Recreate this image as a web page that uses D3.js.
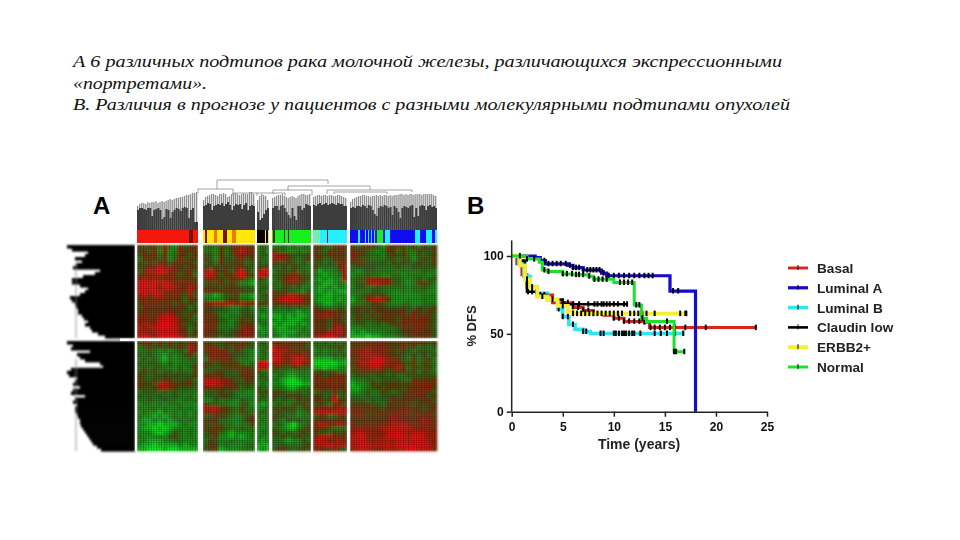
<!DOCTYPE html>
<html>
<head>
<meta charset="utf-8">
<script src="https://cdn.jsdelivr.net/npm/d3@7"></script>
<style>
  html, body { margin: 0; background: #fff; }
  text { font-family: "Liberation Sans", sans-serif; }
</style>
</head>
<body>
<div id="chart"></div>
<script>
const captionLines = [
    "А 6 различных подтипов рака молочной железы, различающихся экспрессионными",
    "«портретами».",
    "В. Различия в прогнозе у пациентов с разными молекулярными подтипами опухолей",
];

// heatmap, one string per row, 0 = bright green, 5 = dark, 9 = bright red
const heatTop1 = ["545637326456","564627237565","456736236546","365546247455","546475465654","457797865465","478899675564","567786754563","787867765655","998989877675","899979986787","998987777585","787887665474","675676565365","566756546454","476565756534","565676765445","676578875463","767689986543","786799987445","878899987534","887899997635","898799998745"];
const heatTop2 = ["3436456765","3325357876","4426347765","5426445645","4536455634","5454546544","7965647953","8864558965","5765465632","4546454221","5554565443","6656555544","2212445221","3222455332","7788887877","5544322342","5543322443","6653233454","6654323544","6663324565","7653334676","6654345787","6553445776"];
const heatTop3 = ["343","342","343","433","434","545","799","897","543","433","344","433","345","334","565","322","232","212","322","233","122","212","223"];
const heatTop4 = ["33424233","53322323","87754445","78754345","54454343","43535433","34445343","44567644","34678654","43566543","33443423","54544324","65788775","68999875","56677765","43343433","22222122","11212112","21211122","12111212","21122232","21111222","32122323"];
const heatTop5 = ["6543566","5436565","6645655","5534556","4434475","5333358","3122347","3212237","2121228","3211232","2112122","2121211","2211222","2111212","3211232","5433343","7567655","6787664","6554654","5654765","6554786","7678896","7889876"];
const heatTop6 = ["54565426555453545","65543235635335445","76543324545324345","65443334434424545","55644443545445445","34444333343344444","32344333333333433","23343322332333323","34477777443234344","34478877443235643","24433433333233432","33334433223233322","23455453222222333","13378985222222322","23345543223322333","45545554445435445","45454656565465464","45546465556575654","35444556546676754","34433434557667654","22333333345567654","12122223345676564","11101122234556654"];

const heatBottom1 = ["565464645475","346454546486","334323234377","434321323463","343421323344","434432423334","343443324245","454534434335","543445454445","544545544453","655488765564","544578654443","344434343333","434343343232","334334332333","233232333222","323323223232","232213232323","322121232323","211212123232","221101112322","211010123232","222101243232","322232453232","221112233222","211011112122","110001001111"];
const heatBottom2 = ["5544555654","6664546644","5777645432","4777754432","3766654332","5545555323","5444556554","4455444575","6665444665","8887754465","8988765454","6665565343","4445443322","3445543222","2243332432","5443322442","8886543533","7775543543","4465432346","5553322355","5464332335","5565433433","4553212223","4462212123","3542232222","4552322233","4551222333"];
const heatBottom3 = ["343","334","243","233","343","899","988","533","343","334","232","433","545","343","433","212","223","343","323","232","323","222","233","322","212","111","121"];
const heatBottom4 = ["55565654","87765554","98876655","89778786","98778987","78668976","55445544","43322333","23211222","32100122","22100011","33211233","55433434","54455544","43433545","34334454","54545345","45444234","54433233","43243434","34210234","43211345","54343454","44534544","33212243","34433345","45544454"];
const heatBottom5 = ["4343434","3434454","2323343","3323434","1111222","0000011","1101122","4544433","6545675","6767766","5567575","6756765","3444545","5534834","5645955","4543664","6777787","8888888","4553455","5666665","7887787","6654333","5443545","7888765","8987787","8889888","7665754"];
const heatBottom6 = ["55565665556565545","56667675556453434","67787776545434443","67888876554353534","56778987664353453","57889987765463543","46678875786354453","55665554555453543","34443443433444444","23344344443365656","12235455555567675","11234545554566775","22343354345666654","33343344545566645","44434344655655564","55554435556545555","66565546566665456","67655665767656565","56655556776657675","66566667877667876","65665667888766776","77776788888877766","78877778998788877","88977779898899877","89987888899899987","88988889899999987","78887778788998886"];

// samples per cluster (left to right) and the gap after each
const clusterSizes = [61, 52, 12, 39, 34, 87];
const clusterGaps = [5, 2, 3, 2, 3, 0];

// subtype strip: run of [subtype, number of samples]
const stripRuns = [
    ["Basal",52],["Dark",4],["Basal",5],["Gap",5],
    ["ERBB2",2],["Dark",2],["ERBB2",7],["Orange",3],["ERBB2",6],["Dark",4],["ERBB2",5],["Orange",4],["ERBB2",19],["Gap",2],
    ["Claudin",8],["ERBB2",1],["Claudin",2],["ERBB2",1],["Gap",3],
    ["Normal",1],["Dark",2],["Normal",9],["Dark",1],["Normal",3],["Dark",1],["Normal",22],["Gap",2],
    ["Mint",7],["LumB",7],["Dark",1],["LumB",19],["Gap",3],
    ["LumA",8],["LumB",2],["LumA",5],["LumB",1],["LumA",2],["LumB",1],["LumA",2],["LumB",1],["LumA",2],["LumB",1],["LumA",2],["Normal",6],["LumA",2],["LumB",5],["LumA",25],["LumB",5],["LumA",6],["LumB",6],["LumA",3],["LumB",2],
];

// sample tree heights per cluster: grey tips, dark body
const treeGrey = [
    [24,26,27,27,26,28,27,28,28,29,27,28,29,28,29,30,31,30,31,32,32,33,33,34,35,35,36,37,37,38],
    [30,33,34,35,36,36,35,34,36,36,37,36,33,34,36,37,37,36,35,36,37,36,36,38,38,36],
    [30,34,36,35,34,30],
    [32,33,34,35,35,36,34,33,32,33,34,33,32,34,35,36,36,35,35,36],
    [33,34,35,35,34,35,35,34,35,35,34,34,35,35,34,33,32],
    [28,31,32,33,34,34,35,35,34,34,33,34,34,35,34,35,34,35,35,34,35,34,35,35,35,36,36,35,36,35,36,36,35,36,36,36,35,36,36,36,36,36,35,34],
];
const treeDark = [
    [20,22,22,21,20,22,22,14,20,21,22,20,11,13,21,20,12,18,20,22,21,19,22,23,22,12,20,22,8,8],
    [24,25,27,26,20,24,25,26,25,27,24,26,28,25,20,24,26,25,26,21,25,27,20,24,25,24],
    [18,10,12,16,20,22],
    [22,24,24,20,24,25,22,18,15,12,22,14,10,24,24,20,22,26,25,24],
    [25,24,26,27,25,26,27,25,26,27,26,25,27,26,26,24,24],
    [22,23,22,24,24,23,25,24,22,25,24,20,16,14,22,24,23,25,24,22,23,15,24,22,18,12,22,24,23,22,24,25,13,22,14,24,25,24,20,24,25,23,24,22],
];
// upper tree brackets: sample from, sample to, height, left leg end, right leg end
const treeLinks = [
    [80,191,50,41,46],
    [61,96,41,37,36],
    [151,233,44,39,40],
    [136,175,40,36,35],
    [190,275,40,36,38],
    [197,250,38,36,36],
    [96,120,37,34,34],
    [120,148,37,36,34],
];

// gene tree depth per leaf row
const geneDepthTop = [68,63,47,50,60,53,59,62,35,40,52,63,63,55,47,50,55,65,63,60,59,57,57,53,51,47,50,45,43,37,30];
const geneDepthBottom = [68,62,64,45,58,55,50,35,32,64,68,66,58,60,62,55,62,64,50,60,62,58,60,60,58,57,55,55,54,52,50,48,46,44,42,38,34];

// survival curves: [years, % DFS]
const basalCurve = [[0,100],[0.5,95],[1,88],[1.5,80],[2.5,75],[4,70],[6,67],[7,65],[8,63],[9,62],[10,60],[11,58],[13,57.5],[13.5,54],[24,54]];
const lumACurve = [[0,100],[2.3,99],[2.8,97],[3.3,95],[5.5,94],[6,92.5],[7,91],[8.8,89],[9.3,87.3],[15.5,77.5],[18,0]];
const lumBCurve = [[0,100],[0.7,95],[1.2,87],[1.8,80],[2.5,76],[3.5,72],[4.5,66],[5,61],[5.6,56],[6.2,53],[7,51.5],[7.7,50.2],[16.9,50.2]];
const claudinCurve = [[0,100],[0.8,97],[1.3,85],[1.5,77],[2.5,75],[3.5,72],[5,69],[11.3,69]];
const erbb2Curve = [[0,100],[0.8,94],[1.3,85],[1.8,80],[2.5,74],[3.5,72],[4.5,68],[5.5,64.5],[6,63],[17.2,63]];
const normalCurve = [[0,100],[1.5,98],[2.7,96],[3,91],[3.5,90],[5,88.5],[6,88],[7.5,87],[8,85],[10,83],[12,68.5],[12.7,60],[13.2,58],[15.9,38.5],[16.9,38.5]];

// censored patients, years
const basalCensor = [5.5,6,6.5,7,7.5,8,10,10.5,11,11.5,12,12.5,13,13.6,14,14.5,15,15.5,16,17,19,23.9];
const lumACensor = [3.2,3.6,4,4.4,4.8,5.3,5.7,6,6.3,6.6,7,7.4,7.7,8,8.3,8.6,9,9.5,10,10.5,11,11.5,12,12.5,13,13.4,13.8,15.8,16.3];
const lumBCensor = [4.6,5,5.5,6,7,7.3,8.7,9,10,10.2,10.5,10.8,11,11.2,11.5,11.8,12,12.6,14,14.6,15.2,16,16.8];
const claudinCensor = [1.6,2,2.4,2.8,3.2,5.2,6,6.6,7.5,8.1,8.4,8.8,9,9.3,9.6,10,10.4,11,11.3];
const erbb2Censor = [1.5,2,3,4,5,6,6.4,6.8,7.2,7.6,8,8.4,8.8,9.2,9.6,10,10.4,10.8,11.6,12,12.4,12.8,13.2,14,16.5,17,17.1];
const normalCensor = [0.8,1.5,2.2,3.2,3.6,5,5.4,5.9,6.3,6.6,7,7.6,8.1,8.5,8.9,9.3,10.6,11,11.4,11.8,12.2,12.5,12.8,15.2,15.9,16.1,16.9];

const seriesNames = ["Basal", "Luminal A", "Luminal B", "Claudin low", "ERBB2+", "Normal"];
const seriesColors = ["#d9281e", "#1408c8", "#2de6f0", "#000000", "#f5ee30", "#1fe02a"];
const seriesWidths = [3, 3.2, 3.6, 2.6, 3.8, 3];
const seriesCurves = [basalCurve, lumACurve, lumBCurve, claudinCurve, erbb2Curve, normalCurve];
const seriesCensors = [basalCensor, lumACensor, lumBCensor, claudinCensor, erbb2Censor, normalCensor];
const xTicks = [0, 5, 10, 15, 20, 25];
const yTicks = [0, 50, 100];

const stripColors = { Basal: "#f5140c", Dark: "#6e1208", Orange: "#f07a0c", ERBB2: "#ffe60a", Claudin: "#0c0404", Normal: "#14f01e", Mint: "#70f0b4", LumB: "#28f0ff", LumA: "#0c0cf0", Gap: "#ffffff" };

const svg = d3.select("#chart").append("svg")
    .attr("width", 960)
    .attr("height", 540)
    .style("display", "block");

const defs = svg.append("defs");
[["soft", 0.5], ["softer", 0.8]].forEach(f => {
    defs.append("filter").attr("id", f[0])
        .attr("x", "-5%").attr("y", "-5%").attr("width", "110%").attr("height", "110%")
        .append("feGaussianBlur").attr("stdDeviation", f[1]);
});
// fine weave over the heatmap cells
const weave = defs.append("pattern").attr("id", "weave")
    .attr("width", 2.6).attr("height", 2.2)
    .attr("patternUnits", "userSpaceOnUse");
weave.append("rect").attr("width", 0.9).attr("height", 2.2).attr("fill", "#000").attr("opacity", 0.28);
weave.append("rect").attr("width", 2.6).attr("height", 0.8).attr("fill", "#000").attr("opacity", 0.22);

// caption
const captionWidth = [709, 134, 717];
captionLines.forEach((line, i) => {
    svg.append("text")
        .attr("x", 73)
        .attr("y", 67 + i * 21.5)
        .attr("textLength", captionWidth[i])
        .attr("lengthAdjust", "spacingAndGlyphs")
        .style("font-family", "'Liberation Serif', serif")
        .style("font-style", "italic")
        .style("font-size", "17.5px")
        .attr("fill", "#111")
        .text(line);
});

// panel A
const sampleX = d3.scaleLinear().domain([0, 300]).range([137, 437]);
const heightY = d3.scaleLinear().domain([0, 50]).range([230, 180]);
const rowsTop = d3.scaleBand().domain(d3.range(heatTop1.length)).range([245, 338]);
const rowsBottom = d3.scaleBand().domain(d3.range(heatBottom1.length)).range([341, 451]);
const heatColor = d3.scaleLinear()
    .domain([0, 2, 4, 5, 7, 9])
    .range(["#0cf01e", "#1c961c", "#386414", "#5e4410", "#98280c", "#f5100c"]);

svg.append("text").attr("x", 93).attr("y", 214)
    .style("font-size", "24px").style("font-weight", "bold").text("A");

const heatG = svg.append("g").attr("filter", "url(#softer)");
const treeG = svg.append("g").attr("filter", "url(#soft)");
const heatTop = [heatTop1, heatTop2, heatTop3, heatTop4, heatTop5, heatTop6];
const heatBottom = [heatBottom1, heatBottom2, heatBottom3, heatBottom4, heatBottom5, heatBottom6];

let start = 0;
const clusterStarts = clusterSizes.map((n, i) => {
    const s = start;
    start += n + clusterGaps[i];
    return s;
});

clusterSizes.forEach((n, c) => {
    const x0 = clusterStarts[c];
    const cols = d3.scaleBand()
        .domain(d3.range(heatTop[c][0].length))
        .range([sampleX(x0), sampleX(x0 + n)]);

    [[heatTop[c], rowsTop], [heatBottom[c], rowsBottom]].forEach(block => {
        const cells = block[0].flatMap((row, r) => row.split("").map((v, k) => ({ r, k, v: +v })));
        heatG.append("g").selectAll("rect")
            .data(cells)
            .join("rect")
            .attr("x", d => cols(d.k))
            .attr("y", d => block[1](d.r))
            .attr("width", cols.bandwidth() + 0.3)
            .attr("height", block[1].bandwidth() + 0.3)
            .attr("fill", d => heatColor(d.v));
    });

    const tree = d3.scaleBand()
        .domain(d3.range(treeGrey[c].length))
        .range([sampleX(x0), sampleX(x0 + n)]);
    treeG.append("g").selectAll("rect")
        .data(treeGrey[c])
        .join("rect")
        .attr("x", (d, i) => tree(i))
        .attr("y", d => heightY(d))
        .attr("width", tree.bandwidth() * 0.65)
        .attr("height", d => heightY(0) - heightY(d))
        .attr("fill", "#8f8f8f");
    treeG.append("g").selectAll("rect")
        .data(treeDark[c])
        .join("rect")
        .attr("x", (d, i) => tree(i))
        .attr("y", d => heightY(d))
        .attr("width", tree.bandwidth())
        .attr("height", d => heightY(0) - heightY(d))
        .attr("fill", "#3c3c3c");
});

svg.append("rect").attr("x", 137).attr("y", 245).attr("width", 300).attr("height", 206).attr("fill", "url(#weave)");

treeG.append("g").selectAll("path")
    .data(treeLinks)
    .join("path")
    .attr("d", d => `M${sampleX(d[0])},${heightY(d[3])}V${heightY(d[2])}H${sampleX(d[1])}V${heightY(d[4])}`)
    .attr("fill", "none")
    .attr("stroke", "#8d8d8d")
    .attr("stroke-width", 0.8);

// white gaps over the heatmap
svg.append("g").selectAll("rect")
    .data(clusterSizes.slice(0, -1))
    .join("rect")
    .attr("x", (d, i) => sampleX(clusterStarts[i] + d))
    .attr("y", 228)
    .attr("width", (d, i) => sampleX(clusterGaps[i]) - sampleX(0))
    .attr("height", 224)
    .attr("fill", "#fff");
svg.append("rect").attr("x", 135).attr("y", 338.4).attr("width", 303).attr("height", 2.6).attr("fill", "#fff");

// subtype strip
let runStart = 0;
const runs = stripRuns.map(r => {
    const o = { type: r[0], x0: runStart, n: r[1] };
    runStart += r[1];
    return o;
});
svg.append("g").attr("filter", "url(#soft)").selectAll("rect")
    .data(runs)
    .join("rect")
    .attr("x", d => sampleX(d.x0))
    .attr("y", heightY(0))
    .attr("width", d => sampleX(d.n) - sampleX(0))
    .attr("height", 13)
    .attr("fill", d => stripColors[d.type]);

// gene tree
const depthX = d3.scaleLinear().domain([0, 70]).range([135, 65]);
const geneG = svg.append("g").attr("filter", "url(#softer)");
[[geneDepthTop, [245, 338]], [geneDepthBottom, [341, 451]]].forEach(block => {
    const rows = d3.scaleBand().domain(d3.range(block[0].length)).range(block[1]);
    geneG.append("g").selectAll("rect")
        .data(block[0])
        .join("rect")
        .attr("x", d => depthX(d))
        .attr("y", (d, i) => rows(i))
        .attr("width", d => depthX(0) - depthX(d))
        .attr("height", rows.bandwidth() + 0.6)
        .attr("fill", "#000");
    geneG.append("line")
        .attr("x1", depthX(59)).attr("x2", depthX(59))
        .attr("y1", rows(6)).attr("y2", block[1][1])
        .attr("stroke", "#777").attr("stroke-width", 0.8);
});
// keep the tree's right edge sharp against the heatmap
svg.append("rect").attr("x", 135).attr("y", 245).attr("width", 2).attr("height", 206).attr("fill", "#fff");
svg.append("rect").attr("x", 120).attr("y", 338.4).attr("width", 17).attr("height", 2.6).attr("fill", "#fff");

// panel B
const x = d3.scaleLinear().domain([0, 25]).range([511.7, 767]);
const y = d3.scaleLinear().domain([0, 100]).range([411.7, 256]);
const kmLine = d3.line().x(d => x(d[0])).y(d => y(d[1])).curve(d3.curveStepAfter);

function survivalAt(curve, t) {
    let s = curve[0][1];
    curve.forEach(p => { if (p[0] <= t) s = p[1]; });
    return s;
}

svg.append("text").attr("x", 467).attr("y", 214)
    .style("font-size", "24px").style("font-weight", "bold").text("B");

const plot = svg.append("g").attr("filter", "url(#soft)");
seriesCurves.forEach((curve, i) => {
    plot.append("path")
        .datum(curve)
        .attr("d", kmLine)
        .attr("fill", "none")
        .attr("stroke", seriesColors[i])
        .attr("stroke-width", seriesWidths[i]);
    plot.append("g").selectAll("line")
        .data(seriesCensors[i])
        .join("line")
        .attr("x1", d => x(d)).attr("x2", d => x(d))
        .attr("y1", d => y(survivalAt(curve, d)) - 3)
        .attr("y2", d => y(survivalAt(curve, d)) + 2.5)
        .attr("stroke", "#000")
        .attr("stroke-width", 2);
});

const xAxis = svg.append("g")
    .attr("transform", `translate(0, ${y(0)})`)
    .call(d3.axisBottom(x).tickValues(xTicks).tickSize(5).tickPadding(6).tickSizeOuter(0));
const yAxis = svg.append("g")
    .attr("transform", `translate(${x(0)}, 0)`)
    .call(d3.axisLeft(y).tickValues(yTicks).tickSize(5).tickSizeOuter(0));
yAxis.select(".domain").attr("d", `M0,${y(110)}V${y(0)}`);
[xAxis, yAxis].forEach(a => {
    a.attr("filter", "url(#soft)");
    a.selectAll("line, path").attr("stroke", "#222").attr("stroke-width", 1.5);
    a.selectAll("text").attr("fill", "#111")
        .style("font-family", "'Liberation Sans', sans-serif")
        .style("font-size", "12px").style("font-weight", "bold");
});

svg.append("text")
    .attr("x", 639).attr("y", 449)
    .attr("text-anchor", "middle")
    .attr("filter", "url(#soft)")
    .style("font-size", "14px").style("font-weight", "bold")
    .attr("fill", "#222")
    .text("Time (years)");
svg.append("text")
    .attr("transform", "translate(476, 326) rotate(-90)")
    .attr("text-anchor", "middle")
    .attr("filter", "url(#soft)")
    .style("font-size", "13px").style("font-weight", "bold")
    .attr("fill", "#222")
    .text("% DFS");

// legend
const legendY = d3.scalePoint().domain(seriesNames).range([268, 367]);
const legend = svg.append("g").attr("filter", "url(#soft)");
seriesNames.forEach((name, i) => {
    legend.append("line")
        .attr("x1", 788).attr("x2", 808)
        .attr("y1", legendY(name)).attr("y2", legendY(name))
        .attr("stroke", seriesColors[i]).attr("stroke-width", seriesWidths[i]);
    legend.append("line")
        .attr("x1", 798).attr("x2", 798)
        .attr("y1", legendY(name) - 3).attr("y2", legendY(name) + 2)
        .attr("stroke", "#000").attr("stroke-width", 1);
    legend.append("text")
        .attr("x", 817).attr("y", legendY(name) + 5)
        .style("font-size", "13.6px").style("font-weight", "bold")
        .attr("fill", "#222")
        .text(name);
});
</script>
</body>
</html>
